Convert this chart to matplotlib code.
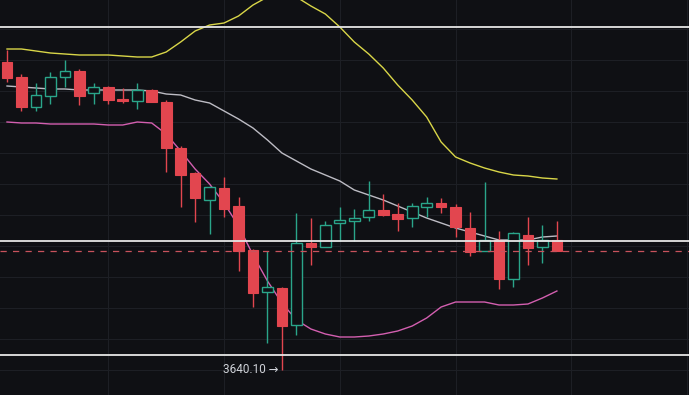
import numpy as np
import matplotlib
matplotlib.use("Agg")
import matplotlib.pyplot as plt

# candle data (oldest -> newest)
opens = [3948, 3933, 3903, 3914, 3933, 3939, 3917, 3923, 3911, 3909,
         3920, 3908, 3862, 3837, 3810, 3822, 3804, 3760, 3718, 3722,
         3685, 3767, 3763, 3787, 3789, 3793, 3800, 3796, 3792, 3803,
         3807, 3803, 3782, 3759, 3770, 3731, 3775, 3763, 3770]
highs = [3960, 3936, 3927, 3938, 3950, 3941, 3927, 3924, 3922, 3927,
         3921, 3910, 3864, 3838, 3824, 3833, 3813, 3761, 3759, 3723,
         3797, 3792, 3789, 3803, 3801, 3829, 3816, 3807, 3807, 3813,
         3812, 3806, 3798, 3828, 3779, 3778, 3793, 3785, 3789]
lows = [3928, 3899, 3899, 3906, 3923, 3905, 3906, 3906, 3907, 3901,
        3908, 3838, 3803, 3788, 3776, 3793, 3739, 3703, 3667, 3640.1,
        3675, 3745, 3763, 3769, 3769, 3789, 3794, 3779, 3783, 3793,
        3797, 3773, 3754, 3759, 3721, 3723, 3745, 3747, 3759]
closes = [3932, 3903, 3915, 3933, 3939, 3914, 3923, 3910, 3909, 3920,
          3908, 3862, 3835, 3812, 3823, 3801, 3759, 3717, 3723, 3684,
          3767, 3763, 3785, 3790, 3792, 3800, 3795, 3791, 3804, 3807,
          3803, 3783, 3758, 3770, 3731, 3777, 3762, 3770, 3759]

# bollinger bands
bb_upper = [3961, 3961, 3959, 3957, 3956, 3955, 3955, 3955, 3954, 3953,
            3953, 3958, 3968, 3979, 3985, 3987, 3994, 4005, 4013, 4016,
            4013, 4004, 3996, 3983, 3968, 3956, 3942, 3925, 3910, 3893,
            3868, 3853, 3847, 3842, 3838, 3835, 3834, 3832, 3831]
bb_mid = [3924, 3923, 3922, 3921, 3921, 3920, 3920, 3920, 3920, 3920,
          3919, 3916, 3915, 3910, 3907, 3899, 3891, 3882, 3870, 3857,
          3849, 3841, 3835, 3829, 3820, 3815, 3810, 3804, 3798, 3792,
          3787, 3782, 3778, 3774, 3770, 3770, 3770, 3773, 3774]
bb_lower = [3888, 3887, 3887, 3886, 3886, 3886, 3886, 3885, 3885, 3888,
            3887, 3876, 3859, 3841, 3826, 3807, 3784, 3755, 3729, 3707,
            3690, 3681, 3676, 3673, 3673, 3674, 3676, 3679, 3684, 3692,
            3703, 3708, 3708, 3708, 3705, 3705, 3706, 3712, 3719]

hlines = [3983, 3769, 3655]
last_price = 3759
low_label = "3640.10 →"
low_idx = 19

bg = "#0f1014"
red = "#e2464f"
green = "#2aa58a"

fig = plt.figure(figsize=(6.89, 3.95), dpi=100, facecolor=bg)
ax = fig.add_axes([0, 0, 1, 1])
ax.set_facecolor(bg)

x = np.arange(len(opens))
o = np.array(opens, dtype=float)
c = np.array(closes, dtype=float)
up = c >= o

# grid
for gx in range(7, 48, 8):
    ax.axvline(gx, color="#1d1f25", lw=0.8, zorder=0)
for gy in np.arange(3640, 4020, 31):
    ax.axhline(gy, color="#1d1f25", lw=0.8, zorder=0)

# bands
ax.plot(x, bb_upper, color="#d9d648", lw=1.0, zorder=2)
ax.plot(x, bb_mid, color="#bdbcc4", lw=1.0, zorder=2)
ax.plot(x, bb_lower, color="#d35fb0", lw=1.0, zorder=2)

# wicks
ax.vlines(x[up], np.array(lows)[up], np.array(highs)[up], color=green, lw=1.0, zorder=3)
ax.vlines(x[~up], np.array(lows)[~up], np.array(highs)[~up], color=red, lw=1.0, zorder=3)

# bodies
w = 0.74
bottom = np.minimum(o, c)
height = np.maximum(np.abs(c - o), 1.2)
ax.bar(x[~up], height[~up], bottom=bottom[~up], width=w, color=red,
       edgecolor=red, lw=0.8, zorder=4)
ax.bar(x[up], height[up], bottom=bottom[up], width=w, color=bg,
       edgecolor=green, lw=1.0, zorder=4)

# horizontal levels
for h in hlines:
    ax.axhline(h, color="#e6e6e6", lw=1.3, zorder=5)
ax.axhline(last_price, color="#c8525c", lw=0.9, ls=(0, (5, 5)), zorder=5)

ax.text(low_idx - 0.22, lows[low_idx] + 0.5, low_label, color="#cfd2d8",
        fontsize=8.5, family=["Roboto", "DejaVu Sans"], ha="right", va="center",
        zorder=6)

ax.set_xlim(-0.484, 47.13)
ax.set_ylim(3615, 4010)
ax.axis("off")

fig.savefig("out.png", dpi=100, facecolor=bg)
